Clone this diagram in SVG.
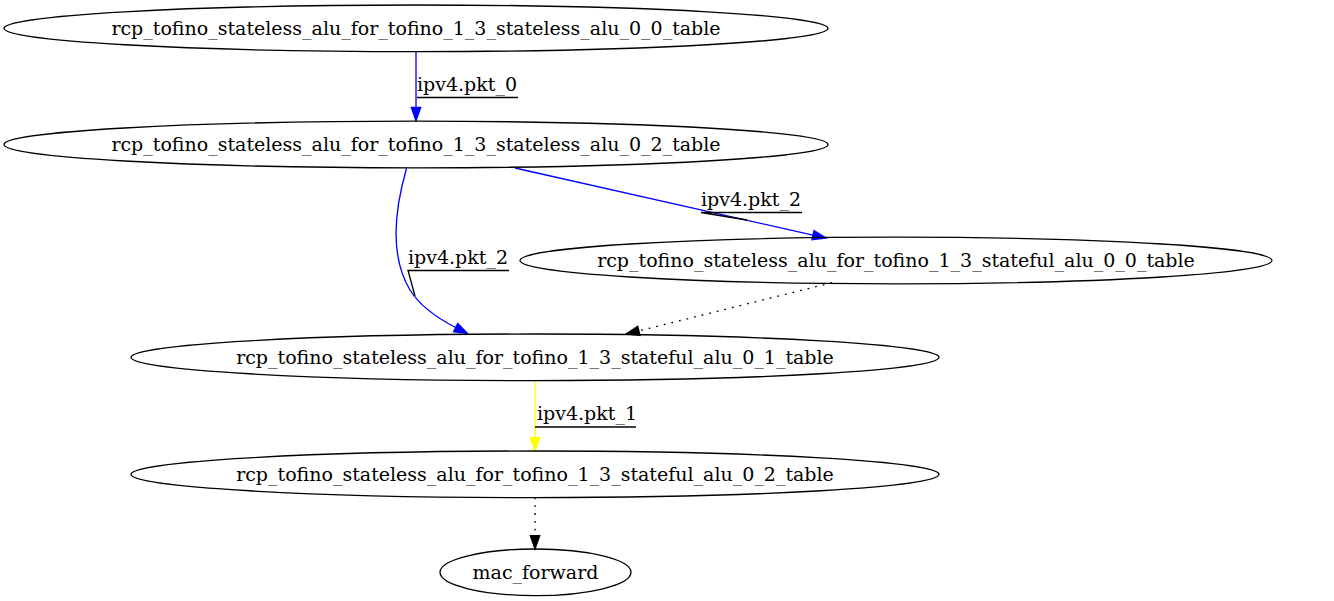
<svg xmlns="http://www.w3.org/2000/svg" width="1334" height="601" viewBox="0 0 1334 601">
<style>
  .node ellipse { fill: none; stroke: #000; stroke-width: 1.33; }
  .node text { font-family: "DejaVu Serif", "Liberation Serif", serif; font-size: 19px; text-anchor: middle; fill: #000; }
  .edge { fill: none; stroke-width: 1.33; }
  .lbl { font-family: "DejaVu Serif", "Liberation Serif", serif; font-size: 19px; fill: #000; }
  .deco { stroke: #000; stroke-width: 1.33; fill: none; }
  .dot { stroke-dasharray: 1.8,6; }
</style>
<defs>
  <marker id="ab" markerUnits="userSpaceOnUse" markerWidth="14" markerHeight="10" refX="0" refY="4.67" orient="auto" overflow="visible">
    <path d="M0,0 L13.3,4.67 L0,9.33 z" fill="#0000ff" stroke="#0000ff" stroke-width="1.33"/>
  </marker>
  <marker id="ay" markerUnits="userSpaceOnUse" markerWidth="14" markerHeight="10" refX="0" refY="4.67" orient="auto" overflow="visible">
    <path d="M0,0 L13.3,4.67 L0,9.33 z" fill="#ffff00" stroke="#ffff00" stroke-width="1.33"/>
  </marker>
  <marker id="ak" markerUnits="userSpaceOnUse" markerWidth="14" markerHeight="10" refX="0" refY="4.67" orient="auto" overflow="visible">
    <path d="M0,0 L13.3,4.67 L0,9.33 z" fill="#000" stroke="#000" stroke-width="1.33"/>
  </marker>
</defs>
<rect width="1334" height="601" fill="#fff"/>
<g id="edges">
  <path class="edge" stroke="#0000ff" d="M416,51.6 L416,107.5" marker-end="url(#ab)"/>
  <text class="lbl" x="417" y="90.5">ipv4.pkt_0</text>
  <path class="deco" d="M417,97.5 L518,97.5"/>

  <path class="edge" stroke="#0000ff" d="M515,168 L813,235.1" marker-end="url(#ab)"/>
  <text class="lbl" x="701" y="205.5">ipv4.pkt_2</text>
  <path class="deco" d="M747,220 L701,212.5 L802,212.5"/>

  <path class="edge" stroke="#0000ff" d="M406.5,168.5 C398,198 386,250 410,290 C420,306 437,318 455.7,327.5" marker-end="url(#ab)"/>
  <text class="lbl" x="408" y="263.5">ipv4.pkt_2</text>
  <path class="deco" d="M415,296 L408,270.5 L509,270.5"/>

  <path class="edge dot" stroke="#000" d="M832,282.7 L638.9,330.9" marker-end="url(#ak)"/>

  <path class="edge" stroke="#ffff00" d="M535,380.5 L535,437.7" marker-end="url(#ay)"/>
  <text class="lbl" x="537" y="420">ipv4.pkt_1</text>
  <path class="deco" d="M535,427 L636,427"/>

  <path class="edge dot" stroke="#000" d="M535,497.5 L535,535.7" marker-end="url(#ak)"/>
</g>
<g id="n1" class="node">
  <ellipse cx="416" cy="28.3" rx="412" ry="23.3"/>
  <text x="416" y="34.5">rcp_tofino_stateless_alu_for_tofino_1_3_stateless_alu_0_0_table</text>
</g>
<g id="n2" class="node">
  <ellipse cx="416" cy="144.5" rx="412" ry="23.3"/>
  <text x="416" y="150.7">rcp_tofino_stateless_alu_for_tofino_1_3_stateless_alu_0_2_table</text>
</g>
<g id="n3" class="node">
  <ellipse cx="896" cy="260.5" rx="376" ry="23.3"/>
  <text x="896" y="266.7">rcp_tofino_stateless_alu_for_tofino_1_3_stateful_alu_0_0_table</text>
</g>
<g id="n4" class="node">
  <ellipse cx="535" cy="357.3" rx="404" ry="23.3"/>
  <text x="535" y="363.5">rcp_tofino_stateless_alu_for_tofino_1_3_stateful_alu_0_1_table</text>
</g>
<g id="n5" class="node">
  <ellipse cx="535" cy="474.3" rx="404" ry="23.3"/>
  <text x="535" y="480.5">rcp_tofino_stateless_alu_for_tofino_1_3_stateful_alu_0_2_table</text>
</g>
<g id="n6" class="node">
  <ellipse cx="535.5" cy="572.3" rx="95.5" ry="23.3"/>
  <text x="535.5" y="578.5">mac_forward</text>
</g>
</svg>
